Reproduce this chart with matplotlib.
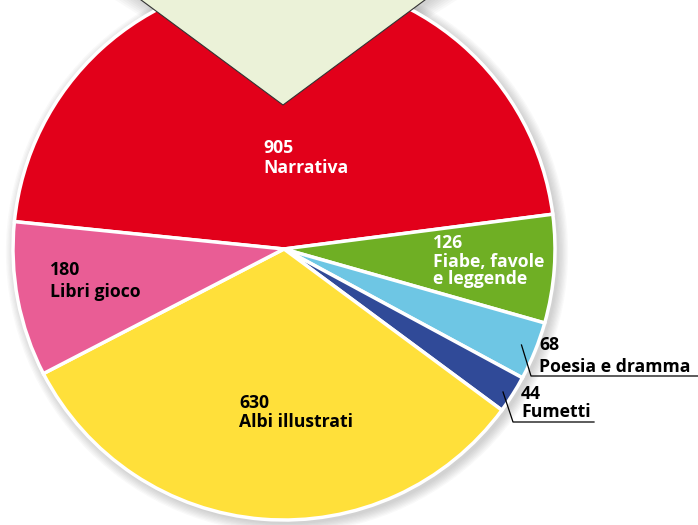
import matplotlib.pyplot as plt
from matplotlib.patches import Wedge, Circle

# data, clockwise from the left edge of "Narrativa"
categories = ['Narrativa', 'Fiabe, favole\ne leggende', 'Poesia e dramma', 'Fumetti',
              'Albi illustrati', 'Libri gioco']
values = [905, 126, 68, 44, 630, 180]
colors = ['#E2001A', '#6FAF24', '#6EC6E4', '#304A98', '#FFE03A', '#E95D95']
text_colors = ['white', 'white', 'black', 'black', 'black', 'black']

W, H = 698, 525
cx, cy, R = 284, H - 249, 271

fig = plt.figure(figsize=(6.98, 5.25), dpi=100)
ax = fig.add_axes([0, 0, 1, 1])

# soft shadows
t1, t2 = 36.5, 143.5
for k in range(8):
    a = 0.035
    ax.add_patch(Wedge((283 + 3, H - 105 - 3), 420 + k * 1.5, t1 - k * 0.6, t2 + k * 0.6,
                       facecolor='#555555', edgecolor='none', alpha=a, zorder=1))
    ax.add_patch(Circle((cx + 3, cy - 3), R + 1 + k * 1.3, facecolor='#555555',
                        edgecolor='none', alpha=a, zorder=1))

wedges, _ = ax.pie(values, colors=colors, startangle=174.2, counterclock=False,
                   center=(cx, cy), radius=R, frame=True,
                   wedgeprops=dict(edgecolor='white', linewidth=2.5))
for w in wedges:
    w.set_zorder(2)

# light green exploded sector on top
ax.add_patch(Wedge((283, H - 105), 420, t1, t2, facecolor='#EBF2D8',
                   edgecolor='#333333', linewidth=0.8, zorder=3))

fs = 12.7
font = dict(family='Open Sans', fontweight='bold', fontsize=fs, zorder=5)

# (x, baseline of number, baseline of first name line) in pixels from top
label_pos = [(263, 153, 173), (433, 248, 267), (539, 350, 372), (521, 399, 417),
             (239, 408, 427), (50, 275, 297)]
for name, v, tc, (x, y1, y2) in zip(categories, values, text_colors, label_pos):
    ax.text(x, H - y1, str(v), color=tc, ha='left', va='baseline', **font)
    for i, line in enumerate(name.split('\n')):
        ax.text(x, H - y2 - 16.5 * i, line, color=tc, ha='left', va='baseline', **font)

# leader lines for the small slices
ax.plot([521.5, 531, 698], [H - 345, H - 376, H - 376], color='black', lw=0.9, zorder=5)
ax.plot([503, 513, 594], [H - 392, H - 422, H - 422], color='black', lw=0.9, zorder=5)

ax.set_xlim(0, W)
ax.set_ylim(0, H)
ax.set_aspect('equal')
ax.axis('off')
fig.savefig('out.png', dpi=100)
